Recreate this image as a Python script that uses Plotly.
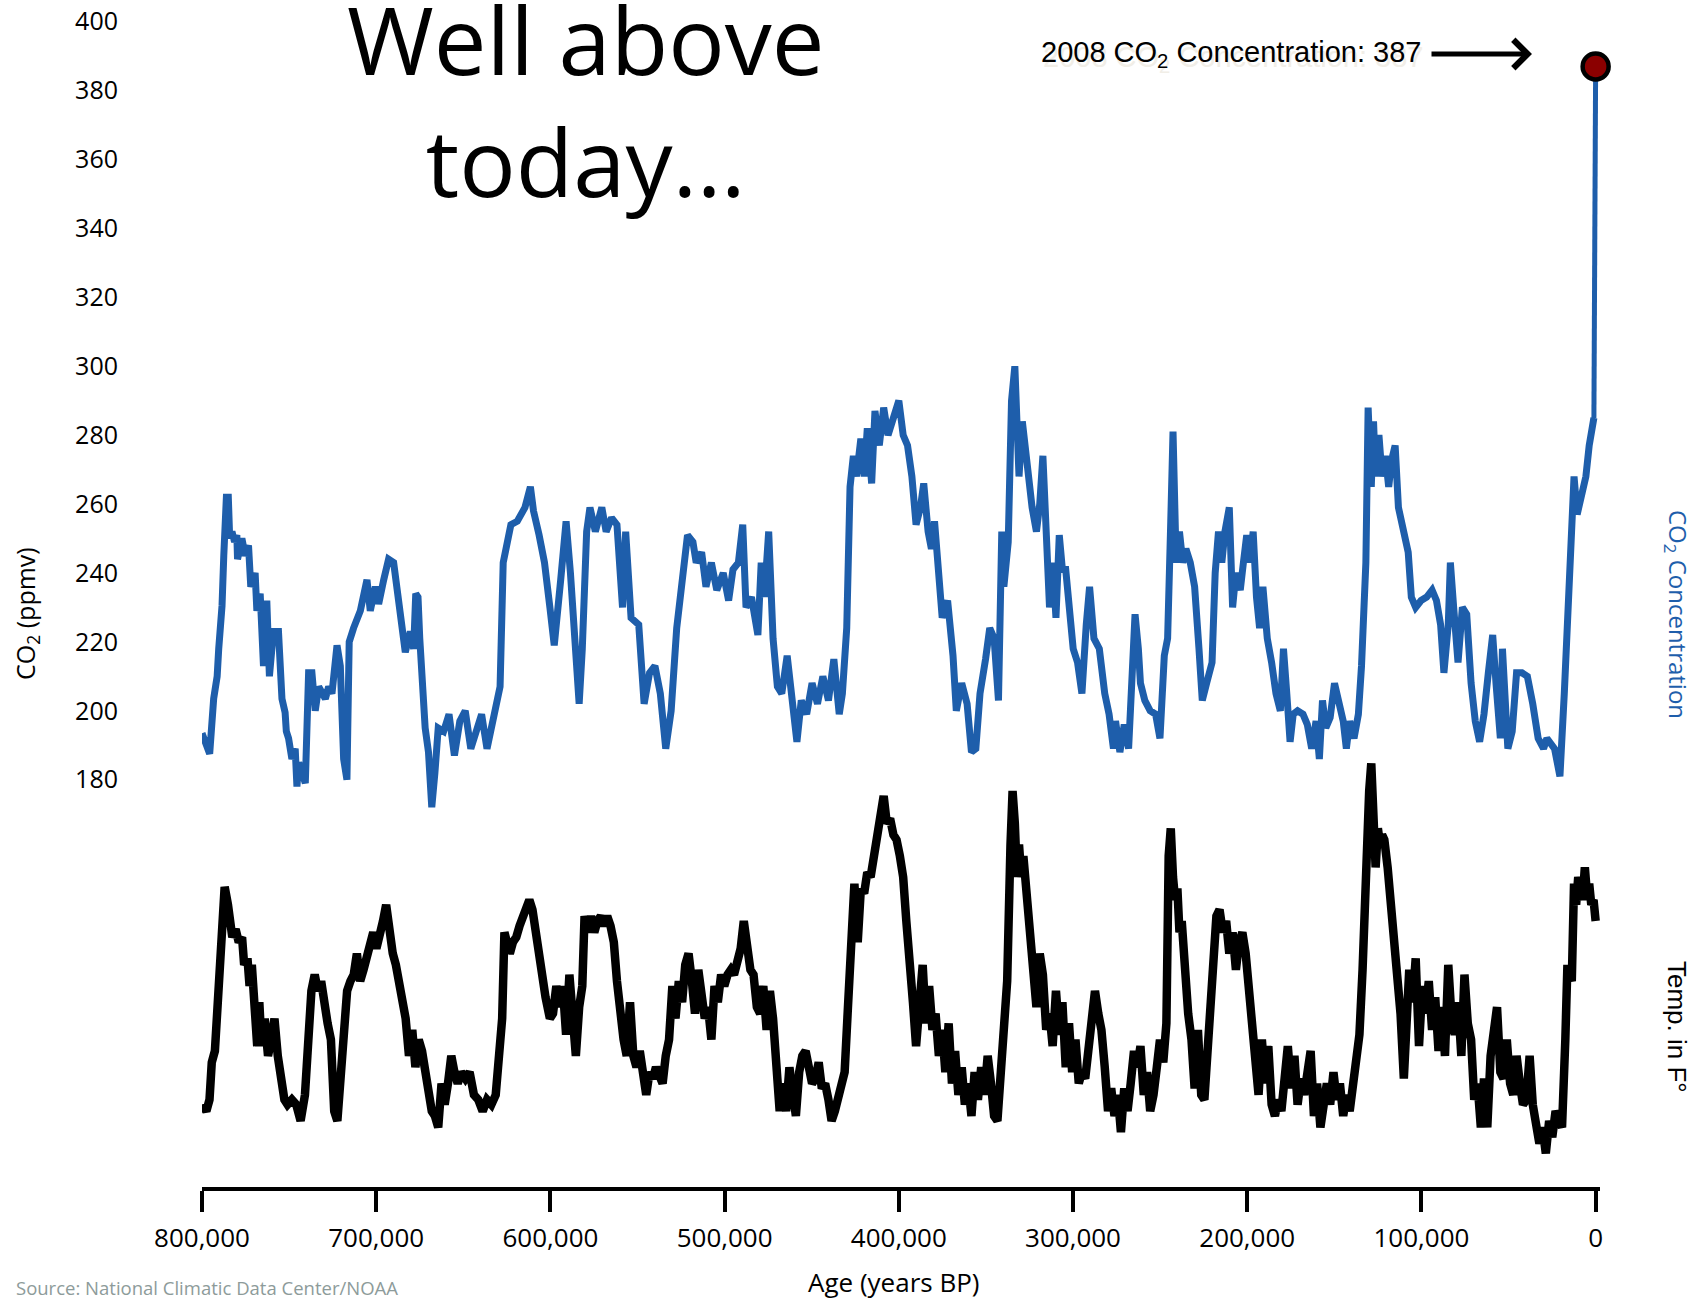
import plotly.graph_objects as go

# ---------------------------------------------------------------------------
# Ice-core CO2 record (age in thousands of years before present, ppmv)
# ---------------------------------------------------------------------------
co2_age_kyr = [
    800.0, 795.6, 793.3, 791.3, 790.4, 788.5, 787.5, 787.0, 786.0, 784.9,
    784.1, 782.8, 781.3, 780.0, 779.6, 777.1, 775.2, 773.3, 772.0, 769.5,
    768.5, 766.6, 764.7, 762.8, 761.3, 759.0, 756.1, 754.1, 752.3, 751.6,
    750.3, 748.4, 746.5, 745.5, 744.5, 740.7, 738.8, 736.9, 735.0, 733.0,
    731.1, 729.2, 727.3, 725.4, 722.5, 720.6, 718.7, 716.8, 715.8, 715.5,
    713.0, 709.1, 705.3, 703.4, 700.5, 698.6, 695.7, 692.9, 690.0, 688.0,
    686.1, 683.3, 680.4, 678.5, 677.3, 676.0, 675.0, 673.7, 671.9, 670.0,
    668.1, 666.3, 664.4, 661.3,
    658.2, 655.1, 652.0, 648.9, 645.7, 642.6, 639.5, 636.4, 633.3, 630.2,
    628.9, 627.1, 625.2, 622.7, 619.0, 614.6, 611.5, 609.7, 606.5, 603.4,
    600.3, 597.8, 594.1, 591.0, 588.5, 585.4, 583.5, 581.7, 579.2, 577.3,
    574.2, 570.5, 568.0, 564.9, 561.8, 558.6, 556.8, 553.7, 549.3, 546.2,
    543.1, 540.0, 536.9, 533.8, 530.7, 527.5, 524.4, 521.3, 518.2, 516.3,
    513.2, 510.7, 507.6, 504.5, 500.8, 497.7, 495.2, 492.1, 489.6, 487.7,
    484.6, 480.9, 479.0, 477.2, 474.7, 472.2, 469.7, 467.2, 464.1, 461.0,
    458.5, 456.0, 452.9, 449.8, 446.7, 443.6, 440.4, 437.3, 434.2, 432.4,
    429.9, 428.0, 426.1, 424.3, 421.8, 419.9, 418.1, 415.6, 413.7, 411.2,
    408.7, 406.2, 403.1, 400.0, 397.5, 395.0, 392.5, 390.1, 387.6, 385.7,
    383.2, 381.3, 379.5, 377.6, 375.1, 372.0, 368.9, 367.0, 363.9, 360.8,
    358.3, 355.8, 353.4, 350.2, 347.8, 345.3, 342.8, 340.9, 339.7, 337.2,
    335.3, 333.4, 332.2, 331.0, 329.1, 327.2, 325.4, 323.5, 321.0, 319.1,
    317.3, 315.4, 313.5, 311.7, 309.8, 307.9, 306.1, 304.2, 302.3, 299.9,
    297.4, 294.9, 292.4, 290.5, 288.0, 284.9, 281.8, 279.3, 276.8, 275.6,
    273.1, 270.6, 268.1, 266.3, 264.4, 262.5, 261.3, 258.8, 255.7, 252.6,
    250.1, 247.6, 245.7, 243.9, 242.6, 240.8, 238.9, 237.0, 235.2, 232.7,
    230.2, 227.7, 225.8, 223.3, 220.2, 218.4, 216.5, 214.6, 212.8, 210.3,
    208.4, 206.5, 204.0, 202.2, 200.3, 198.4, 196.6, 194.7, 192.9, 191.0,
    188.5, 186.0, 183.5, 181.0, 179.2, 177.3, 175.4, 173.6, 171.1, 168.0,
    165.5, 163.0, 160.5, 158.6, 156.8, 154.9, 152.4, 149.9, 147.4, 144.9,
    143.1, 141.2, 138.7, 136.2, 134.4, 133.1, 131.9, 130.6, 128.8, 127.5,
    126.3, 124.4, 122.6, 120.7, 118.8, 117.0, 115.1, 113.2, 110.7, 107.6,
    105.8, 103.3, 100.2, 97.0, 93.9, 91.4, 89.0, 87.1, 84.6, 83.4,
    81.5, 79.0, 76.5, 74.0, 71.5, 69.1, 66.6, 64.1, 61.6, 59.1,
    57.2, 56.0, 54.7, 53.5, 52.3, 50.4, 47.9, 45.4, 42.3, 39.2,
    36.1, 33.0, 29.9, 28.0, 23.6, 20.5, 18.0, 15.6, 13.7, 12.4,
    10.6, 8.1, 5.6, 3.7, 1.0,
]
co2_ppmv = [
    193.5, 187.5, 203.5, 210, 218, 230.5, 245, 250, 262, 262,
    250, 252, 249, 251, 244, 250, 245, 248, 236, 240,
    229, 234, 213, 232, 210, 223, 223, 203.5, 199.5, 194,
    192, 186, 189, 178, 185, 179, 211, 211, 200, 207,
    205, 203.5, 207, 205, 219, 213, 186, 180, 211, 220,
    224, 229, 238, 229, 236, 231, 238, 244, 243, 236,
    226, 217, 223, 218, 234, 233, 221, 205, 195, 188,
    172, 182, 195, 194,
    199, 187, 197, 200, 189, 194, 199, 189, 196, 202,
    207, 243, 249, 254, 255, 259, 265, 258, 251, 243,
    230, 219, 238, 255, 240, 215, 202, 218, 252, 259,
    252, 259, 252, 256, 254, 230, 252, 227, 225, 202,
    211, 213, 205, 189, 200, 224, 236, 251, 249, 243,
    246, 236, 243, 235, 240, 232, 241, 243, 254, 230,
    233, 222, 243, 233, 252, 221, 207, 205, 216, 202,
    191, 203, 199, 208, 202, 210, 203, 215, 199, 205,
    224, 265, 274, 268, 279, 268, 282, 266, 287, 277,
    288, 280, 285, 290, 280, 277, 268, 254, 259, 266,
    252, 247, 255, 243, 227, 232, 216, 200, 208, 202,
    188, 189, 205, 215, 224, 221, 203, 252, 236, 249,
    290, 300, 287, 268, 284, 274, 268, 259, 252, 260,
    274, 249, 230, 243, 227, 251, 241, 241, 228, 218,
    214, 205, 225, 236, 221, 218, 205, 199, 189, 197,
    188, 196, 189, 205, 228, 218, 208, 203, 200, 199,
    192, 216, 221, 255, 281, 243, 252, 243, 247, 243,
    236, 218, 203, 208, 214, 240, 252, 243, 252, 259,
    230, 240, 235, 243, 251, 243, 252, 233, 224, 236,
    221, 214, 205, 200, 218, 205, 191, 199, 200, 199,
    196, 189, 197, 186, 203, 195, 198, 208, 202, 197,
    189, 197, 192, 199, 213, 225, 243, 288, 265, 284,
    268, 280, 268, 274, 265, 273, 277, 259, 252, 246,
    233, 230, 232, 233, 235, 232, 225, 211, 225, 243,
    230, 214, 230, 228, 208, 197, 191, 199, 211, 222,
    208, 197, 192, 218, 203, 189, 194, 211, 211, 210,
    202, 192, 189, 192, 189, 181, 205, 228, 252, 268,
    257, 262, 268, 277, 285,
]

# Instrumental value for 2008
modern_age_kyr = [0.0]
modern_co2 = [387]

# ---------------------------------------------------------------------------
# Temperature anomaly (deg F) from the same core
# ---------------------------------------------------------------------------
temp_age_kyr = [
    800.0, 797.5, 795.7, 794.4, 792.6, 791.3, 789.4, 788.2, 787.0, 785.1,
    783.8, 782.6, 780.7, 778.9, 777.0, 775.8, 773.9, 772.7, 771.4, 769.5,
    768.3, 767.1, 765.8, 764.0, 762.1, 760.2, 758.4, 756.5, 754.6, 752.7,
    750.9, 748.4, 745.9, 743.4, 740.9, 739.1, 737.2, 735.3, 733.5, 731.6,
    729.7, 727.9, 726.0, 724.1, 722.3, 720.4, 718.5, 716.7, 714.8, 712.9,
    711.1, 709.2, 707.3, 705.5, 703.6, 701.7, 699.9, 698.0, 696.1, 694.3,
    692.4, 690.5, 688.7, 686.8, 684.9, 683.1, 681.2, 679.3, 677.5, 675.6,
    673.7, 671.9, 670.0, 668.1, 666.3, 664.4, 662.5, 660.7, 658.8, 656.9,
    655.1, 653.2, 651.3, 648.8, 646.4, 643.9, 641.4, 638.9, 636.4, 633.9,
    631.4, 629.6, 627.7, 626.4, 625.2, 623.3, 621.5, 619.6, 617.7, 615.9,
    614.0, 612.1, 610.3, 608.4, 606.5, 604.7, 602.8, 600.3, 598.5, 596.6,
    594.7, 592.9, 591.0, 589.1, 587.3, 585.4, 583.5, 581.7, 580.4, 578.6,
    576.7, 574.8, 573.0, 571.1, 569.2, 567.4, 565.5, 563.6, 561.8, 559.9,
    558.0, 556.2, 554.3, 552.4, 550.6, 548.7, 546.8, 545.0, 543.1, 541.2,
    539.4, 537.5, 535.6, 533.8, 531.9, 530.0, 528.2, 526.3, 524.4, 522.6,
    520.7, 518.8, 517.0, 515.1, 513.2, 511.4, 509.5, 507.6, 505.8, 503.9,
    502.0, 500.2, 498.3, 496.4, 494.6, 492.7, 490.8, 489.0, 487.1, 485.2,
    483.4, 481.5, 479.6, 477.8, 475.9, 474.0, 472.2, 470.3, 468.4, 466.6,
    464.7, 462.8, 461.0, 459.1, 457.2, 455.4, 453.5, 451.6, 449.8, 447.9,
    446.0, 444.2, 442.3, 440.4, 438.6, 436.7, 434.8, 433.0, 431.1, 429.2,
    427.4, 425.5, 423.6, 421.8, 419.9, 418.1, 416.2, 414.3, 412.5, 410.6,
    408.7, 406.9, 405.0, 403.1, 401.3, 399.4, 397.5, 395.7, 393.8, 391.9,
    390.1, 388.2, 386.3, 384.5, 382.6, 380.7, 378.9, 377.0, 375.1, 373.3,
    371.4, 369.5, 367.7, 365.8, 363.9, 362.1, 360.2, 358.3, 356.5, 354.6,
    352.7, 350.9, 349.0, 347.1, 345.3, 343.4, 341.5, 339.7, 337.8, 335.9,
    334.7, 333.4, 332.2, 331.0, 329.7, 328.5, 326.6, 324.7, 322.9, 321.0,
    319.1, 317.3, 315.4, 313.5, 311.7, 309.8, 307.9, 306.1, 304.2, 302.3,
    300.5, 298.6, 296.7, 294.9, 293.0, 291.1, 289.3, 287.4, 285.5, 283.7,
    281.8, 279.9, 278.1, 276.2, 274.3, 272.5, 270.6, 268.7, 266.9, 265.0,
    263.1, 261.3, 259.4, 257.5, 255.7, 253.8, 251.9, 250.1, 248.2, 246.4,
    245.1, 243.9, 242.6, 241.4, 240.1, 238.9, 237.6, 235.8, 233.9, 232.0,
    230.2, 228.3, 226.4, 224.6, 222.7, 220.8, 219.6, 217.7, 215.9, 214.0,
    212.1, 210.3, 208.4, 206.5, 204.7, 202.8, 200.9, 199.1, 197.2, 195.3,
    193.5, 191.6, 189.7, 187.9, 186.0, 184.1, 182.3, 180.4, 178.5, 176.7,
    174.8, 172.9, 171.1, 169.2, 167.3, 165.5, 163.6, 161.7, 159.9, 158.0,
    156.1, 154.3, 152.4, 150.5, 148.7, 146.8, 144.9, 143.1, 141.2, 139.4,
    137.5, 135.6, 133.8, 131.9, 130.0, 128.8, 127.5, 126.3, 125.0, 123.8,
    122.6, 121.3, 119.4, 117.6, 115.7, 113.8, 112.0, 110.1, 108.2, 107.0,
    105.1, 103.3, 101.4, 99.5, 97.7, 95.8, 93.9, 92.1, 90.2, 88.3,
    86.5, 84.6, 82.7, 80.9, 79.0, 77.1, 75.3, 73.4, 71.5, 69.7,
    67.8, 65.9, 64.1, 62.2, 60.3, 58.5, 56.6, 54.7, 52.9, 51.0,
    49.1, 47.3, 45.4, 43.5, 41.7, 39.8, 37.9, 36.1, 34.2, 32.3,
    30.5, 28.6, 26.7, 24.9, 23.0, 21.2, 19.3, 17.4, 16.2, 14.9,
    13.7, 12.4, 11.2, 10.0, 8.7, 7.5, 6.2, 5.0, 3.7, 2.5,
    1.2, 0.0,
]
temp_anom_f = [
    -11.3, -11.7, -11.0, -8.7, -8.0, -6.0, -2.0, 0.0, 2.1, 1.0,
    0.0, -1.0, -0.5, -1.3, -1.0, -2.7, -2.3, -4.0, -2.7, -5.3,
    -7.7, -5.0, -7.7, -6.0, -8.3, -7.3, -6.0, -8.3, -10.0, -11.0,
    -11.3, -11.0, -11.3, -12.3, -10.7, -6.3, -4.3, -3.3, -4.3, -3.7,
    -5.3, -6.3, -7.3, -11.7, -12.3, -9.3, -8.0, -4.3, -3.7, -3.3,
    -2.0, -3.7, -3.0, -2.3, -1.3, -0.7, -1.7, -0.5, 0.0, 1.0,
    -0.7, -2.0, -2.7, -3.7, -4.7, -6.0, -8.3, -6.7, -9.0, -7.3,
    -8.0, -9.0, -10.7, -11.7, -12.0, -12.7, -10.0, -11.3, -10.0, -8.3,
    -9.3, -10.0, -9.3, -9.7, -9.3, -10.7, -11.0, -11.7, -11.0, -11.3,
    -10.7, -8.7, -6.0, -0.7, -1.3, -2.0, -1.3, -1.0, -0.3, 0.3,
    0.7, 1.3, 0.7, -0.7, -2.7, -3.7, -4.7, -6.0, -5.7, -4.0,
    -5.3, -4.0, -7.0, -3.3, -6.0, -8.3, -5.3, -4.0, 0.3, -0.7,
    0.3, -0.7, 0.0, 0.3, -0.3, 0.3, -0.3, -1.3, -3.7, -5.7,
    -7.3, -8.3, -5.0, -8.3, -9.0, -8.0, -10.0, -10.7, -9.3, -9.7,
    -9.0, -9.7, -10.0, -8.3, -7.3, -4.0, -6.0, -3.7, -5.0, -2.7,
    -2.0, -3.7, -5.7, -3.0, -5.0, -6.0, -5.3, -7.3, -4.0, -5.0,
    -3.3, -4.0, -3.3, -3.0, -3.3, -2.7, -1.7, 0.0, -1.7, -3.0,
    -3.3, -5.3, -5.7, -4.0, -6.7, -4.3, -6.0, -9.0, -11.7, -10.0,
    -11.7, -9.0, -10.7, -12.0, -9.3, -8.3, -8.0, -9.0, -10.0, -9.7,
    -8.7, -10.3, -10.0, -11.0, -12.3, -11.7, -10.7, -10.0, -9.3, -5.3,
    -2.3, 2.3, -1.3, 2.0, 1.7, 3.0, 2.7, 4.0, 4.7, 5.7,
    7.7, 6.0, 6.3, 5.3, 5.0, 4.0, 2.7, 0.0, -2.0, -5.0,
    -7.7, -4.7, -2.7, -6.3, -4.0, -6.7, -5.7, -8.3, -6.7, -9.3,
    -6.3, -10.0, -8.0, -10.7, -9.0, -11.3, -10.0, -12.0, -9.3, -11.0,
    -9.0, -10.7, -8.3, -10.0, -12.0, -12.3, -9.7, -7.3, -3.7, 4.7,
    8.0, 6.0, 2.7, 4.7, 2.7, 4.0, 1.3, -0.7, -3.3, -5.3,
    -2.0, -3.3, -6.7, -5.7, -7.7, -4.3, -7.0, -5.0, -9.0, -6.3,
    -9.3, -7.3, -10.0, -9.3, -9.7, -8.0, -6.0, -4.3, -5.7, -6.7,
    -9.0, -11.7, -10.3, -12.0, -10.7, -13.0, -10.3, -11.7, -10.0, -8.0,
    -9.0, -7.7, -10.7, -9.3, -11.7, -10.7, -9.0, -7.3, -8.7, -6.3,
    4.0, 5.7, 2.7, 1.3, 2.0, -0.7, 0.0, -3.7, -5.7, -7.3,
    -10.3, -6.7, -10.7, -11.0, -7.3, -5.3, -1.3, 0.3, 0.7, -0.7,
    0.0, -2.0, -0.7, -3.0, -1.3, -0.7, -2.0, -4.3, -7.0, -8.3,
    -10.7, -7.3, -10.0, -7.7, -11.3, -12.0, -11.0, -11.7, -10.0, -7.7,
    -10.3, -8.3, -11.3, -9.7, -10.7, -9.0, -8.0, -12.0, -10.0, -12.7,
    -10.7, -10.0, -11.3, -9.3, -11.0, -10.0, -12.0, -10.7, -11.7, -10.0,
    -9.3, -7.0, -3.0, 4.7, 8.0, 9.7, 6.0, 3.3, 5.7, 4.7,
    5.3, 5.0, 3.3, 1.3, -1.3, -3.7, -5.7, -9.7, -5.0, -3.0,
    -5.0, -2.3, -7.7, -4.0, -5.7, -3.7, -6.7, -4.7, -8.0, -5.3,
    -8.3, -2.7, -6.0, -7.0, -5.0, -8.3, -3.3, -6.3, -7.3, -11.0,
    -10.0, -12.7, -9.7, -12.7, -8.3, -7.0, -5.3, -9.3, -9.7, -7.3,
    -10.0, -10.7, -8.3, -10.0, -11.3, -11.0, -8.3, -11.3, -12.3, -13.7,
    -12.7, -14.3, -12.3, -13.3, -11.7, -12.3, -12.7, -7.3, -2.7, -3.3,
    -3.7, 2.3, 1.0, 2.7, 2.0, 1.3, 3.3, 1.7, 2.3, 1.0,
    1.3, 0.0,
]

assert len(co2_age_kyr) == len(co2_ppmv), (len(co2_age_kyr), len(co2_ppmv))
assert len(temp_age_kyr) == len(temp_anom_f), (len(temp_age_kyr), len(temp_anom_f))

# Axis ticks
age_tick_kyr = [800, 700, 600, 500, 400, 300, 200, 100, 0]
age_tick_text = ["800,000", "700,000", "600,000", "500,000", "400,000",
                 "300,000", "200,000", "100,000", "0"]
co2_tick_vals = [180, 200, 220, 240, 260, 280, 300, 320, 340, 360, 380, 400]

# ---------------------------------------------------------------------------
# Page geometry
# ---------------------------------------------------------------------------
W, H = 1699, 1300
ML, MR, MT, MB = 202, 99, 0, 113
PW, PH = W - ML - MR, H - MT - MB

BLUE = "#1e5eab"
SANS = "Open Sans"
ARIAL = "Liberation Sans"


def px(x):
    return (x - ML) / PW


def py(y):
    return (MT + PH - y) / PH


fig = go.Figure()

# CO2 record
fig.add_trace(go.Scatter(
    x=co2_age_kyr, y=co2_ppmv, mode="lines",
    line=dict(color=BLUE, width=7), yaxis="y", hoverinfo="skip",
))
# Jump from the last ice-core value to the 2008 measurement
fig.add_trace(go.Scatter(
    x=[co2_age_kyr[-1], modern_age_kyr[0]], y=[co2_ppmv[-1], modern_co2[0]],
    mode="lines", line=dict(color=BLUE, width=5), yaxis="y", hoverinfo="skip",
))
fig.add_trace(go.Scatter(
    x=modern_age_kyr, y=modern_co2, mode="markers",
    marker=dict(size=26, color="#8b0000", line=dict(color="black", width=4.5)),
    cliponaxis=False, yaxis="y", hoverinfo="skip",
))
# Temperature record
fig.add_trace(go.Scatter(
    x=temp_age_kyr, y=temp_anom_f, mode="lines",
    line=dict(color="black", width=8.5), yaxis="y2", hoverinfo="skip",
))

annotations = [
    dict(text="Well above<br>today…", x=px(585), y=py(100), xref="paper", yref="paper",
         xanchor="center", yanchor="middle", showarrow=False,
         font=dict(family=SANS, size=94, color="black")),
    # soft reflection behind the callout
    dict(text="2008 CO<sub>2</sub> Concentration: 387", x=px(1425), y=py(59),
         xref="paper", yref="paper", xanchor="right", yanchor="middle", showarrow=False,
         font=dict(family=ARIAL, size=29, color="#f1eee7")),
    dict(text="2008 CO<sub>2</sub> Concentration: 387", x=px(1423), y=py(54),
         xref="paper", yref="paper", xanchor="right", yanchor="middle", showarrow=False,
         font=dict(family=ARIAL, size=29, color="black")),
    dict(text="", x=px(1532), y=py(54), xref="paper", yref="paper",
         ax=-102, ay=0, axref="pixel", ayref="pixel", showarrow=True,
         arrowhead=4, arrowsize=1.1, arrowwidth=5, arrowcolor="black"),
    dict(text="CO<sub>2</sub> (ppmv)", x=px(27), y=py(614), xref="paper", yref="paper",
         textangle=-90, xanchor="center", yanchor="middle", showarrow=False,
         font=dict(family=SANS, size=25, color="black")),
    dict(text="CO<sub>2</sub> Concentration", x=px(1677), y=py(614), xref="paper",
         yref="paper", textangle=90, xanchor="center", yanchor="middle", showarrow=False,
         font=dict(family=SANS, size=24, color=BLUE)),
    dict(text="Temp. in F°", x=px(1677), y=py(1027), xref="paper", yref="paper",
         textangle=90, xanchor="center", yanchor="middle", showarrow=False,
         font=dict(family=ARIAL, size=26, color="black")),
    dict(text="Age (years BP)", x=px(894), y=py(1282), xref="paper", yref="paper",
         xanchor="center", yanchor="middle", showarrow=False,
         font=dict(family=SANS, size=26, color="black")),
    dict(text="Source: National Climatic Data Center/NOAA", x=px(14), y=py(1287),
         xref="paper", yref="paper", xanchor="left", yanchor="middle", showarrow=False,
         font=dict(family=SANS, size=18.5, color="#8d9b9a")),
]

fig.update_layout(
    width=W, height=H,
    margin=dict(l=ML, r=MR, t=MT, b=MB, pad=0),
    paper_bgcolor="white", plot_bgcolor="white",
    showlegend=False,
    xaxis=dict(
        range=[800, -2.5], showgrid=False, zeroline=False,
        showline=True, linecolor="black", linewidth=4,
        ticks="outside", ticklen=21, tickwidth=4, tickcolor="black",
        ticklabelstandoff=4,
        tickvals=age_tick_kyr, ticktext=age_tick_text,
        tickfont=dict(family=SANS, size=26, color="black"),
    ),
    yaxis=dict(
        range=[61.78, 406.29], showgrid=False, zeroline=False, showline=False,
        ticks="outside", ticklen=78, tickcolor="rgba(0,0,0,0)",
        tickvals=co2_tick_vals,
        tickfont=dict(family=SANS, size=25, color="black"),
    ),
    yaxis2=dict(
        range=[-16.37, 56.68], overlaying="y", side="right", visible=False,
        showgrid=False, zeroline=False,
    ),
    annotations=annotations,
)

fig.write_html("out.html")
